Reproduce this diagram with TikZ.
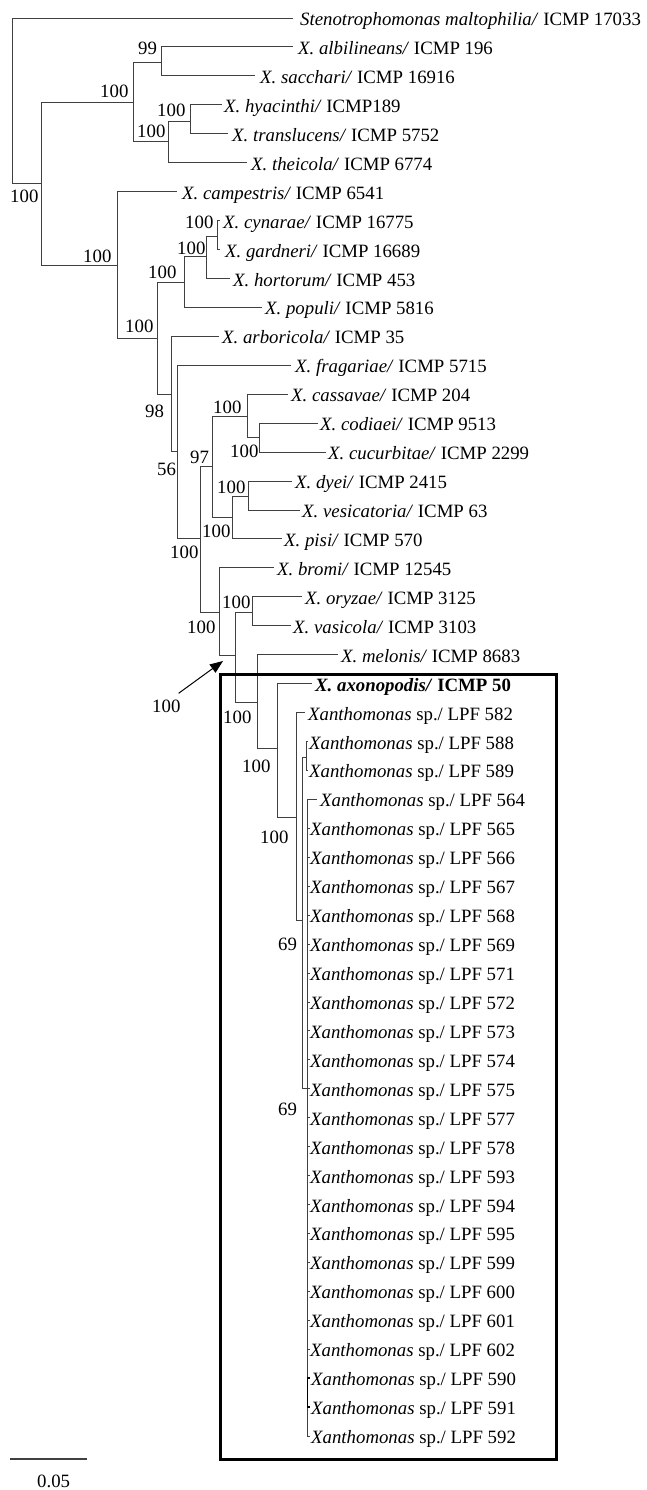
\documentclass[tikz,border=0pt]{standalone}
\usepackage{fontspec}
\setmainfont{Liberation Serif}
\usetikzlibrary{arrows.meta}
\newcommand{\xlab}[1]{\textit{Xanthomonas} sp./ LPF #1}
\tikzset{
  br/.style={draw=black!75, line width=0.9pt},
  lab/.style={anchor=base west, inner sep=0pt, font=\fontsize{18.8}{22}\selectfont},
  supp/.style={anchor=base west, inner sep=0pt, font=\fontsize{18.8}{22}\selectfont},
}
\begin{document}
\begin{tikzpicture}[x=1pt,y=-1pt]
\useasboundingbox (0,0) rectangle (646,1490);
% internal nodes
\coordinate (r) at (12,100);
\coordinate (A) at (41,183);
\coordinate (B) at (133,102);
\coordinate (B1) at (161,62);
\coordinate (B2) at (168,141);
\coordinate (B2a) at (190,121);
\coordinate (C) at (117,265);
\coordinate (D) at (157,338);
\coordinate (E) at (184,282);
\coordinate (F) at (206,256);
\coordinate (G) at (217,236);
\coordinate (H) at (171,394);
\coordinate (I) at (177,451);
\coordinate (J) at (200,538);
\coordinate (K) at (212,466);
\coordinate (M) at (247,416);
\coordinate (N) at (259,437);
\coordinate (O) at (232,517);
\coordinate (P) at (248,496);
\coordinate (L) at (219,612);
\coordinate (R) at (235,655);
\coordinate (Q) at (252,612);
\coordinate (S) at (257,702);
\coordinate (T) at (277,748);
\coordinate (U) at (296,817);
\coordinate (V) at (302,920);
\coordinate (X1) at (306,757);
\coordinate (W) at (307,1088);
\coordinate (Z) at (307.6,1392);
% leaf ends
\coordinate (e1) at (293,18.0);
\coordinate (e2) at (293,46.9);
\coordinate (e3) at (255,75.9);
\coordinate (e4) at (222,104.8);
\coordinate (e5) at (228,133.8);
\coordinate (e6) at (247,162.7);
\coordinate (e7) at (177,191.6);
\coordinate (e8) at (220,220.6);
\coordinate (e9) at (220,249.5);
\coordinate (e10) at (230,278.5);
\coordinate (e11) at (262,307.4);
\coordinate (e12) at (219,336.3);
\coordinate (e13) at (291,365.3);
\coordinate (e14) at (288,394.2);
\coordinate (e15) at (318,423.2);
\coordinate (e16) at (326,452.1);
\coordinate (e17) at (292,481.0);
\coordinate (e18) at (300,510.0);
\coordinate (e19) at (282,538.9);
\coordinate (e20) at (274,567.9);
\coordinate (e21) at (302,596.8);
\coordinate (e22) at (291,625.7);
\coordinate (e23) at (338,654.7);
\coordinate (e24) at (312,683.6);
\coordinate (e25) at (305,712.6);
\coordinate (e26) at (308,741.5);
\coordinate (e27) at (308,770.4);
\coordinate (e28) at (317,799.4);
\foreach \i in {29,...,50} {\coordinate (e\i) at (309.5,{18+(\i-1)*28.94});}
% branches
\draw[br] (r) |- (e1);  \draw[br] (r) |- (A);
\draw[br] (A) |- (B);   \draw[br] (A) |- (C);
\draw[br] (B) |- (B1);  \draw[br] (B) |- (B2);
\draw[br] (B1) |- (e2); \draw[br] (B1) |- (e3);
\draw[br] (B2) |- (B2a);\draw[br] (B2) |- (e6);
\draw[br] (B2a) |- (e4);\draw[br] (B2a) |- (e5);
\draw[br] (C) |- (e7);  \draw[br] (C) |- (D);
\draw[br] (D) |- (E);   \draw[br] (D) |- (H);
\draw[br] (E) |- (F);   \draw[br] (E) |- (e11);
\draw[br] (F) |- (G);   \draw[br] (F) |- (e10);
\draw[br] (G) |- (e8);  \draw[br] (G) |- (e9);
\draw[br] (H) |- (e12); \draw[br] (H) |- (I);
\draw[br] (I) |- (e13); \draw[br] (I) |- (J);
\draw[br] (J) |- (K);   \draw[br] (J) |- (L);
\draw[br] (K) |- (M);   \draw[br] (K) |- (O);
\draw[br] (M) |- (e14); \draw[br] (M) |- (N);
\draw[br] (N) |- (e15); \draw[br] (N) |- (e16);
\draw[br] (O) |- (P);   \draw[br] (O) |- (e19);
\draw[br] (P) |- (e17); \draw[br] (P) |- (e18);
\draw[br] (L) |- (e20); \draw[br] (L) |- (R);
\draw[br] (R) |- (Q);   \draw[br] (R) |- (S);
\draw[br] (Q) |- (e21); \draw[br] (Q) |- (e22);
\draw[br] (S) |- (e23); \draw[br] (S) |- (T);
\draw[br] (T) |- (e24); \draw[br] (T) |- (U);
\draw[br] (U) |- (e25); \draw[br] (U) |- (V);
\draw[br] (V) |- (X1);  \draw[br] (V) |- (W);
\draw[br] (X1) |- (e26);\draw[br] (X1) |- (e27);
\foreach \i in {28,...,47} {\draw[br] (W) |- (e\i);}
\draw[br] (W) |- (e50);
\draw[br] (W) |- (Z);
\draw[br, line width=1.6pt, draw=black] (Z) |- (e48);
\draw[br, line width=1.6pt, draw=black] (Z) |- (e49);
% box
\draw[line width=3pt] (220,674) rectangle (556,1459);
% leaf labels
\node[lab] (t1) at (300,25.5) {\textit{Stenotrophomonas maltophilia/} ICMP 17033};
\node[lab] (t2) at (298,54.4) {\textit{X. albilineans/} ICMP 196};
\node[lab] (t3) at (260,83.4) {\textit{X. sacchari/} ICMP 16916};
\node[lab] (t4) at (224,112.3) {\textit{X. hyacinthi/} ICMP189};
\node[lab] (t5) at (232,141.3) {\textit{X. translucens/} ICMP 5752};
\node[lab] (t6) at (251,170.2) {\textit{X. theicola/} ICMP 6774};
\node[lab] (t7) at (182,199.1) {\textit{X. campestris/} ICMP 6541};
\node[lab] (t8) at (223,228.1) {\textit{X. cynarae/} ICMP 16775};
\node[lab] (t9) at (225,257.0) {\textit{X. gardneri/} ICMP 16689};
\node[lab] (t10) at (233,286.0) {\textit{X. hortorum/} ICMP 453};
\node[lab] (t11) at (265,314.9) {\textit{X. populi/} ICMP 5816};
\node[lab] (t12) at (222,343.8) {\textit{X. arboricola/} ICMP 35};
\node[lab] (t13) at (295,372.8) {\textit{X. fragariae/} ICMP 5715};
\node[lab] (t14) at (291,401.7) {\textit{X. cassavae/} ICMP 204};
\node[lab] (t15) at (320,430.7) {\textit{X. codiaei/} ICMP 9513};
\node[lab] (t16) at (328,459.6) {\textit{X. cucurbitae/} ICMP 2299};
\node[lab] (t17) at (295,488.5) {\textit{X. dyei/} ICMP 2415};
\node[lab] (t18) at (302,517.5) {\textit{X. vesicatoria/} ICMP 63};
\node[lab] (t19) at (284,546.4) {\textit{X. pisi/} ICMP 570};
\node[lab] (t20) at (277,575.4) {\textit{X. bromi/} ICMP 12545};
\node[lab] (t21) at (305,604.3) {\textit{X. oryzae/} ICMP 3125};
\node[lab] (t22) at (293,633.2) {\textit{X. vasicola/} ICMP 3103};
\node[lab] (t23) at (341,662.2) {\textit{X. melonis/} ICMP 8683};
\node[lab] (t24) at (315,691.1) {\textbf{\textit{X. axonopodis/} ICMP 50}};
\node[lab] (t25) at (308,720.1) {\xlab{582}};
\node[lab] (t26) at (309,749.0) {\xlab{588}};
\node[lab] (t27) at (309,777.9) {\xlab{589}};
\node[lab] (t28) at (320,806.9) {\xlab{564}};
\foreach \i/\n in {29/565,30/566,31/567,32/568,33/569,34/571,35/572,36/573,37/574,38/575,39/577,40/578,41/593,42/594,43/595,44/599,45/600,46/601,47/602}
  {\node[lab] (t\i) at (310,{25.5+(\i-1)*28.94}) {\xlab{\n}};}
\foreach \i/\n in {48/590,49/591,50/592}
  {\node[lab] (t\i) at (311,{25.5+(\i-1)*28.94}) {\xlab{\n}};}
% support values
\node[supp] (s1) at (10,203) {100};
\node[supp] (s2) at (100,98) {100};
\node[supp] (s3) at (138,55) {99};
\node[supp] (s4) at (137,138) {100};
\node[supp] (s5) at (157,117) {100};
\node[supp] (s6) at (83,262) {100};
\node[supp] (s7) at (125,332) {100};
\node[supp] (s8) at (148,278) {100};
\node[supp] (s9) at (177,254) {100};
\node[supp] (s10) at (185,228) {100};
\node[supp] (s11) at (145,417) {98};
\node[supp] (s12) at (157,475) {56};
\node[supp] (s13) at (190,463) {97};
\node[supp] (s14) at (213,413) {100};
\node[supp] (s15) at (230,457) {100};
\node[supp] (s16) at (202,537) {100};
\node[supp] (s17) at (217,493) {100};
\node[supp] (s18) at (170,558) {100};
\node[supp] (s19) at (187,633) {100};
\node[supp] (s20) at (222,608) {100};
\node[supp] (s21) at (152,712) {100};
\node[supp] (s22) at (223,723) {100};
\node[supp] (s23) at (242,772) {100};
\node[supp] (s24) at (260,843) {100};
\node[supp] (s25) at (278,950) {69};
\node[supp] (s26) at (278,1115) {69};
% arrow
\coordinate (tip) at (223,661);
\draw[line width=1pt, -{Triangle[length=13pt,width=10pt]}] ([shift={(-2,-6)}]s21.north east) -- (tip);
% scale bar
\coordinate (sb1) at (10,1459);
\coordinate (sb2) at (87,1459);
\draw[br, line width=1.2pt] (sb1) -- (sb2);
\node[supp] (sbl) at (37,1487) {0.05};
\end{tikzpicture}
\end{document}
